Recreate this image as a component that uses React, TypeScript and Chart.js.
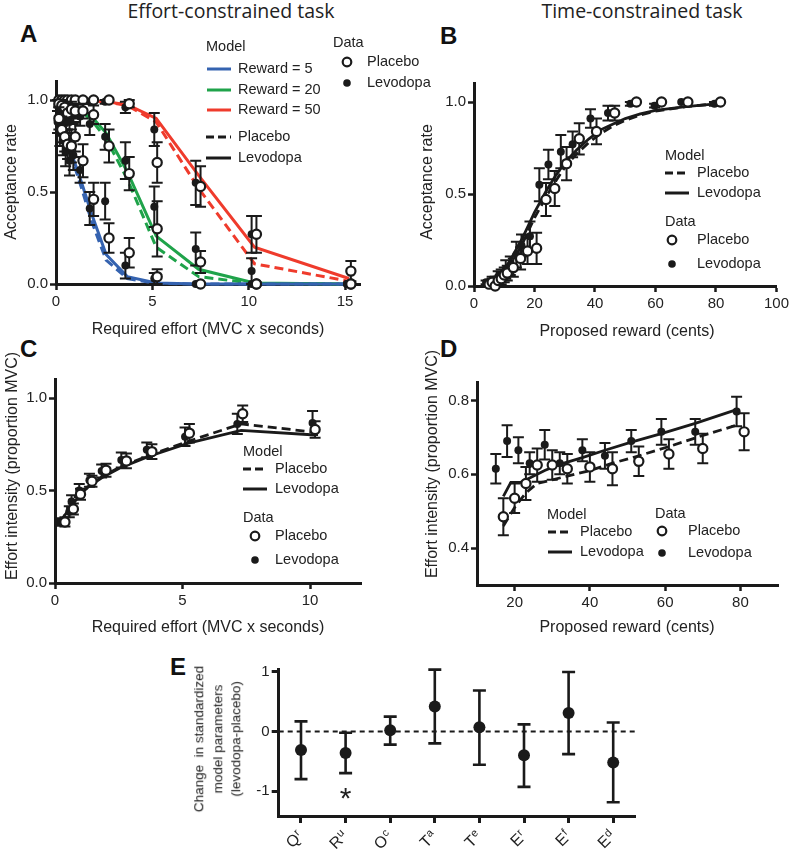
import React, { useEffect, useRef } from "react";
import { Chart, registerables } from "chart.js";

Chart.register(...registerables);

const FONT = "'Liberation Sans', Arial, Helvetica, sans-serif";
const INK = "#1a1a1a";
const BLUE = "#3563B0";
const GREEN = "#1FA34A";
const RED = "#EF3B2C";

// ---------------- Panel A : effort-constrained acceptance ----------------
const A_MODEL_EFFORT = [0.2, 0.35, 0.5, 0.65, 0.9, 1.3, 1.85, 2.6, 3.7, 5.2, 7.4, 10.3, 15.2];
const A_R5_LEVO = [0.86, 0.83, 0.79, 0.75, 0.68, 0.56, 0.38, 0.16, 0.04, 0.005, 0, 0, 0];
const A_R5_PLAC = [0.85, 0.81, 0.77, 0.73, 0.66, 0.53, 0.34, 0.13, 0.03, 0.003, 0, 0, 0];
const A_R20_LEVO = [0.99, 0.99, 0.98, 0.98, 0.97, 0.95, 0.91, 0.82, 0.61, 0.26, 0.08, 0.006, 0];
const A_R20_PLAC = [0.99, 0.98, 0.98, 0.97, 0.96, 0.94, 0.89, 0.79, 0.57, 0.2, 0.04, 0.003, 0];
const A_R50_LEVO = [1, 1, 1, 1, 1, 1, 0.995, 0.99, 0.975, 0.9, 0.59, 0.2, 0.03];
const A_R50_PLAC = [1, 1, 1, 1, 1, 1, 0.995, 0.99, 0.97, 0.88, 0.52, 0.11, 0.015];

const A_EFF_PLAC = [0.15, 0.3, 0.45, 0.6, 0.8, 1.0, 1.4, 1.95, 2.75, 3.8, 5.25, 7.5, 10.4, 15.3];
const A_EFF_LEVO = [0.08, 0.2, 0.35, 0.5, 0.7, 0.9, 1.25, 1.75, 2.55, 3.6, 5.1, 7.25, 10.15, 15.1];
const A_D5_PLAC = [0.9, 0.84, 0.8, 0.76, 0.75, 0.8, 0.67, 0.46, 0.25, 0.17, 0.04, 0, 0, 0];
const A_D5_PLAC_ERR = [0.06, 0.07, 0.08, 0.08, 0.09, 0.08, 0.09, 0.09, 0.08, 0.08, 0.04, 0, 0, 0];
const A_D5_LEVO = [0.88, 0.82, 0.78, 0.72, 0.67, 0.7, 0.62, 0.41, 0.45, 0.1, 0.03, 0, 0, 0];
const A_D5_LEVO_ERR = [0.06, 0.07, 0.08, 0.08, 0.08, 0.08, 0.07, 0.09, 0.1, 0.07, 0.03, 0, 0, 0];
const A_D20_PLAC = [0.98, 0.97, 0.96, 0.93, 0.95, 0.94, 0.94, 0.92, 0.75, 0.6, 0.3, 0.12, 0, 0];
const A_D20_PLAC_ERR = [0.02, 0.03, 0.03, 0.05, 0.04, 0.04, 0.04, 0.05, 0.09, 0.09, 0.15, 0.06, 0, 0];
const A_D20_LEVO = [0.97, 0.95, 0.92, 0.9, 0.88, 0.92, 0.91, 0.87, 0.8, 0.67, 0.42, 0.19, 0.07, 0];
const A_D20_LEVO_ERR = [0.03, 0.04, 0.05, 0.06, 0.06, 0.05, 0.05, 0.06, 0.07, 0.1, 0.11, 0.09, 0.07, 0];
const A_D50_PLAC = [1, 1, 1, 1, 1, 1, 1, 1, 1, 0.98, 0.66, 0.53, 0.27, 0.07];
const A_D50_PLAC_ERR = [0, 0, 0, 0, 0, 0, 0, 0, 0, 0.02, 0.11, 0.11, 0.1, 0.055];
const A_D50_LEVO = [1, 1, 0.99, 1, 0.99, 1, 0.99, 0.99, 0.99, 0.96, 0.84, 0.55, 0.27, 0];
const A_D50_LEVO_ERR = [0, 0, 0.01, 0, 0.01, 0, 0.01, 0.01, 0.01, 0.03, 0.09, 0.12, 0.1, 0];
const A_X_TICKS = [0, 5, 10, 15];
const A_Y_TICKS = [0, 0.5, 1];

// ---------------- Panel B : time-constrained acceptance ----------------
const B_MODEL_REWARD = [4, 6, 8, 10, 12, 14, 16, 18, 20, 22, 24, 27, 30, 34, 38, 42, 46, 50, 55, 60, 70, 80];
const B_MODEL_LEVO = [0.015, 0.03, 0.055, 0.09, 0.14, 0.2, 0.26, 0.33, 0.4, 0.46, 0.52, 0.6, 0.67, 0.74, 0.8, 0.85, 0.88, 0.91, 0.935, 0.955, 0.975, 0.99];
const B_MODEL_PLAC = [0.012, 0.025, 0.045, 0.075, 0.12, 0.17, 0.23, 0.3, 0.37, 0.43, 0.49, 0.57, 0.645, 0.72, 0.78, 0.83, 0.87, 0.9, 0.93, 0.95, 0.975, 0.99];
const B_REW_PLAC = [5, 6, 7, 8, 9, 10, 11, 13, 15.4, 17.7, 20.7, 23.8, 26.7, 30.6, 34.8, 40.5, 46.5, 53.7, 62, 70.7, 81.5];
const B_ACC_PLAC = [0.01, 0.02, 0.0, 0.03, 0.04, 0.06, 0.07, 0.1, 0.15, 0.19, 0.205, 0.47, 0.53, 0.665, 0.8, 0.84, 0.94, 1.0, 1.0, 1.0, 1.0];
const B_ERR_PLAC = [0.01, 0.02, 0, 0.02, 0.03, 0.04, 0.04, 0.05, 0.06, 0.07, 0.085, 0.09, 0.095, 0.09, 0.085, 0.07, 0.04, 0, 0, 0, 0];
const B_REW_LEVO = [4, 5, 6, 7, 8, 9, 10.5, 12, 14, 15.7, 18.5, 21.6, 24.6, 28.7, 32.6, 38.5, 44.3, 51.7, 59.7, 68.5, 79.5];
const B_ACC_LEVO = [0.02, 0.02, 0.03, 0.03, 0.05, 0.06, 0.09, 0.11, 0.17, 0.22, 0.27, 0.55, 0.66, 0.73, 0.77, 0.91, 0.94, 0.99, 0.98, 1.0, 0.99];
const B_ERR_LEVO = [0.01, 0.01, 0.02, 0.02, 0.03, 0.03, 0.05, 0.05, 0.07, 0.06, 0.08, 0.09, 0.08, 0.09, 0.07, 0.05, 0.04, 0.01, 0.01, 0, 0.01];
const B_X_TICKS = [0, 20, 40, 60, 80, 100];
const B_Y_TICKS = [0, 0.5, 1];

// ---------------- Panel C : effort intensity vs required effort ----------------
const C_MODEL_EFFORT = [0.2, 0.45, 0.65, 0.95, 1.3, 1.85, 2.6, 3.7, 5.2, 7.3, 10.2];
const C_MODEL_LEVO = [0.33, 0.38, 0.42, 0.47, 0.52, 0.57, 0.625, 0.685, 0.755, 0.825, 0.8];
const C_MODEL_PLAC = [0.33, 0.38, 0.42, 0.47, 0.52, 0.575, 0.63, 0.69, 0.765, 0.86, 0.815];
const C_EFF_PLAC = [0.39, 0.72, 1.0, 1.45, 2.0, 2.8, 3.8, 5.27, 7.36, 10.2];
const C_INT_PLAC = [0.33, 0.4, 0.48, 0.55, 0.61, 0.66, 0.71, 0.81, 0.915, 0.83];
const C_ERR_PLAC = [0.025, 0.03, 0.03, 0.03, 0.035, 0.04, 0.04, 0.05, 0.045, 0.045];
const C_EFF_LEVO = [0.2, 0.56, 0.65, 0.95, 1.35, 1.83, 2.6, 3.6, 5.1, 7.15, 10.1];
const C_INT_LEVO = [0.33, 0.385, 0.44, 0.5, 0.555, 0.605, 0.665, 0.72, 0.79, 0.86, 0.865];
const C_ERR_LEVO = [0.02, 0.03, 0.035, 0.035, 0.035, 0.035, 0.04, 0.04, 0.05, 0.055, 0.065];
const C_X_TICKS = [0, 5, 10];
const C_Y_TICKS = [0, 0.5, 1];

// ---------------- Panel D : effort intensity vs proposed reward ----------------
const D_MODEL_REW_LEVO = [17, 19, 21.5, 24, 28, 32, 38, 44, 51, 59, 68, 79];
const D_MODEL_LEVO = [0.54, 0.578, 0.578, 0.59, 0.61, 0.627, 0.645, 0.665, 0.687, 0.71, 0.738, 0.775];
const D_MODEL_REW_PLAC = [17, 20, 23, 26, 30, 34, 40, 46, 53, 61, 70, 79];
const D_MODEL_PLAC = [0.46, 0.51, 0.55, 0.575, 0.585, 0.595, 0.61, 0.63, 0.65, 0.675, 0.705, 0.733];
const D_REW_LEVO = [15, 18, 21, 24, 28, 32, 38, 44, 51, 59, 68, 79];
const D_INT_LEVO = [0.615, 0.69, 0.665, 0.63, 0.68, 0.63, 0.665, 0.65, 0.69, 0.715, 0.715, 0.77];
const D_ERR_LEVO = [0.04, 0.043, 0.035, 0.03, 0.04, 0.03, 0.03, 0.035, 0.03, 0.035, 0.035, 0.04];
const D_REW_PLAC = [17, 20, 23, 26, 30, 34, 40, 46, 53, 61, 70, 81];
const D_INT_PLAC = [0.485, 0.535, 0.575, 0.625, 0.625, 0.615, 0.62, 0.615, 0.635, 0.655, 0.67, 0.715];
const D_ERR_PLAC = [0.05, 0.04, 0.045, 0.045, 0.04, 0.04, 0.04, 0.045, 0.04, 0.04, 0.04, 0.05];
const D_X_TICKS = [20, 40, 60, 80];
const D_Y_TICKS = [0.4, 0.6, 0.8];

// ---------------- Panel E : parameter changes ----------------
const E_PARAMS = ["Qr", "Ru", "Oc", "Ta", "Te", "Er", "Ef", "Ed"];
const E_CHANGE = [-0.31, -0.36, 0.02, 0.42, 0.07, -0.4, 0.31, -0.52];
const E_LOW = [-0.8, -0.7, -0.22, -0.2, -0.56, -0.93, -0.38, -1.19];
const E_HIGH = [0.17, -0.02, 0.25, 1.04, 0.69, 0.12, 1.0, 0.15];
const E_SIG = ["", "*", "", "", "", "", "", ""];
const E_SIG_Y = -1;
const E_Y_TICKS = [-1, 0, 1];

// ---------------- helpers ----------------
type Geo = { left: number; top: number; width: number; height: number; l: number; t: number; r: number; b: number };

const pts = (xs: number[], ys: number[]) => xs.map((x, i) => ({ x, y: ys[i] }));

function modelDs(xs: number[], ys: number[], color: string, dashed: boolean, width = 3) {
  return {
    type: "scatter",
    data: pts(xs, ys),
    showLine: true,
    borderColor: color,
    backgroundColor: color,
    borderWidth: width,
    borderDash: dashed ? [9, 5] : [],
    pointRadius: 0,
    fill: false,
    tension: 0,
    order: 3,
    clip: false,
  };
}

function dataDs(xs: number[], ys: number[], err: number[], filled: boolean) {
  return {
    type: "scatter",
    data: pts(xs, ys),
    showLine: false,
    pointRadius: filled ? 4 : 4.6,
    pointBorderWidth: filled ? 0 : 2.2,
    pointBackgroundColor: filled ? INK : "#ffffff",
    pointBorderColor: INK,
    err,
    order: filled ? 2 : 1,
    clip: false,
  };
}

function axis(min: number, max: number, ticks: number[], fmt: (v: number) => string, size: number, horizontal: boolean, extra: any = {}) {
  return {
    type: "linear",
    min,
    max,
    afterBuildTicks: (s: any) => {
      s.ticks = ticks.map((v) => ({ value: v }));
    },
    afterFit: (s: any) => {
      if (horizontal) s.height = size;
      else s.width = size;
    },
    ticks: {
      callback: (v: any) => fmt(Number(v)),
      font: { family: FONT, size: 15 },
      color: "#222",
      padding: horizontal ? 3 : 2,
      autoSkip: false,
      maxRotation: 0,
    },
    grid: { drawOnChartArea: false, drawTicks: true, tickLength: 6, tickWidth: 2.5, tickColor: INK, color: INK },
    border: { display: true, color: INK, width: 3 },
    title: { display: false },
    ...extra,
  };
}

const errorBarPlugin = {
  id: "errbars",
  beforeDatasetDraw(chart: any, args: any) {
    const ds = chart.data.datasets[args.index];
    if (!ds.err && !ds.errLo) return;
    const ctx = chart.ctx;
    const ys = chart.scales.y;
    const cap = ds.capHalf ?? 5.5;
    ctx.save();
    ctx.strokeStyle = INK;
    ctx.lineWidth = ds.errWidth ?? 2;
    args.meta.data.forEach((el: any, i: number) => {
      const d = ds.data[i];
      const v = typeof d === "number" ? d : d.y;
      let lo: number, hi: number;
      if (ds.errLo) {
        lo = ds.errLo[i];
        hi = ds.errHi[i];
      } else {
        const e = ds.err[i];
        if (!e) return;
        lo = v - e;
        hi = v + e;
      }
      const x = el.x;
      const y1 = ys.getPixelForValue(lo);
      const y2 = ys.getPixelForValue(hi);
      ctx.beginPath();
      ctx.moveTo(x, y1);
      ctx.lineTo(x, y2);
      ctx.moveTo(x - cap, y1);
      ctx.lineTo(x + cap, y1);
      ctx.moveTo(x - cap, y2);
      ctx.lineTo(x + cap, y2);
      ctx.stroke();
    });
    ctx.restore();
  },
};

type LegItem =
  | { k: "text"; x: number; y: number; s: string }
  | { k: "line"; x1: number; x2: number; y: number; c: string; dash?: boolean }
  | { k: "circle"; x: number; y: number; filled: boolean };

const legendPlugin = {
  id: "panelLegend",
  afterDraw(chart: any, _args: any, opts: any) {
    if (!opts || !opts.items) return;
    const ctx = chart.ctx;
    const ox = opts.ox || 0;
    const oy = opts.oy || 0;
    ctx.save();
    (opts.items as LegItem[]).forEach((it) => {
      if (it.k === "text") {
        ctx.font = `14.5px ${FONT}`;
        ctx.fillStyle = "#222";
        ctx.textAlign = "left";
        ctx.textBaseline = "middle";
        ctx.fillText(it.s, it.x - ox, it.y - oy);
      } else if (it.k === "line") {
        ctx.strokeStyle = it.c;
        ctx.lineWidth = 3;
        ctx.setLineDash(it.dash ? [8, 4] : []);
        ctx.beginPath();
        ctx.moveTo(it.x1 - ox, it.y - oy);
        ctx.lineTo(it.x2 - ox, it.y - oy);
        ctx.stroke();
        ctx.setLineDash([]);
      } else {
        ctx.beginPath();
        ctx.arc(it.x - ox, it.y - oy, it.filled ? 3.8 : 4.3, 0, Math.PI * 2);
        if (it.filled) {
          ctx.fillStyle = INK;
          ctx.fill();
        } else {
          ctx.fillStyle = "#fff";
          ctx.fill();
          ctx.strokeStyle = INK;
          ctx.lineWidth = 2.2;
          ctx.stroke();
        }
      }
    });
    ctx.restore();
  },
};

const eDecorPlugin = {
  id: "eDecor",
  beforeDatasetsDraw(chart: any) {
    const { ctx, chartArea } = chart;
    const y0 = chart.scales.y.getPixelForValue(0);
    ctx.save();
    ctx.strokeStyle = INK;
    ctx.lineWidth = 2;
    ctx.setLineDash([5, 4]);
    ctx.beginPath();
    ctx.moveTo(chartArea.left, y0);
    ctx.lineTo(chartArea.right, y0);
    ctx.stroke();
    ctx.restore();
  },
  afterDraw(chart: any) {
    const { ctx, chartArea } = chart;
    const xs = chart.scales.x;
    const ys = chart.scales.y;
    const labels: string[] = chart.data.labels;
    ctx.save();
    labels.forEach((lab, i) => {
      const x = xs.getPixelForValue(i);
      ctx.save();
      ctx.translate(x, chartArea.bottom + 18);
      ctx.rotate(-Math.PI / 4);
      ctx.fillStyle = "#222";
      ctx.textBaseline = "middle";
      ctx.textAlign = "right";
      ctx.font = `11px ${FONT}`;
      const sup = lab.slice(1);
      const supW = ctx.measureText(sup).width;
      ctx.fillText(sup, 0, -4);
      ctx.font = `16px ${FONT}`;
      ctx.fillText(lab[0], -supW - 0.5, 0);
      ctx.restore();
      if (E_SIG[i]) {
        ctx.font = `30px ${FONT}`;
        ctx.textAlign = "center";
        ctx.textBaseline = "alphabetic";
        ctx.fillStyle = "#222";
        ctx.fillText(E_SIG[i], x, ys.getPixelForValue(E_SIG_Y) + 17);
      }
    });
    ctx.restore();
  },
};

function baseOptions(g: Geo) {
  return {
    animation: false,
    responsive: false,
    maintainAspectRatio: false,
    devicePixelRatio: 1,
    events: [],
    layout: { padding: { left: 0, top: g.t - g.top, right: g.left + g.width - g.r, bottom: 0 } },
  };
}

function ChartBox({ geo, make }: { geo: Geo; make: () => any }) {
  const ref = useRef<HTMLCanvasElement | null>(null);
  useEffect(() => {
    if (!ref.current) return;
    const chart = new Chart(ref.current, make());
    return () => chart.destroy();
  }, []);
  return (
    <canvas
      ref={ref}
      width={geo.width}
      height={geo.height}
      style={{ position: "absolute", left: geo.left, top: geo.top, width: geo.width, height: geo.height }}
    />
  );
}

const f1 = (v: number) => v.toFixed(1);
const f0 = (v: number) => String(v);

// ---------------- geometry ----------------
const GA: Geo = { left: 0, top: 30, width: 440, height: 310, l: 56, t: 81.6, r: 360.5, b: 284 };
const GB: Geo = { left: 420, top: 60, width: 372, height: 280, l: 474, t: 83.6, r: 777, b: 286 };
const GC: Geo = { left: 0, top: 360, width: 430, height: 273, l: 55, t: 379.5, r: 361, b: 583 };
const GD: Geo = { left: 420, top: 360, width: 372, height: 273, l: 477, t: 382, r: 778, b: 585 };
const GE: Geo = { left: 185, top: 648, width: 607, height: 205, l: 278.7, t: 669, r: 635.5, b: 816 };

function modelLegend(x: number, y: number, dy: number): LegItem[] {
  return [];
}

const makeA = () => ({
  type: "scatter",
  data: {
    datasets: [
      modelDs(A_MODEL_EFFORT, A_R5_PLAC, BLUE, true),
      modelDs(A_MODEL_EFFORT, A_R5_LEVO, BLUE, false),
      modelDs(A_MODEL_EFFORT, A_R20_PLAC, GREEN, true),
      modelDs(A_MODEL_EFFORT, A_R20_LEVO, GREEN, false),
      modelDs(A_MODEL_EFFORT, A_R50_PLAC, RED, true),
      modelDs(A_MODEL_EFFORT, A_R50_LEVO, RED, false),
      dataDs(A_EFF_LEVO, A_D5_LEVO, A_D5_LEVO_ERR, true),
      dataDs(A_EFF_LEVO, A_D20_LEVO, A_D20_LEVO_ERR, true),
      dataDs(A_EFF_LEVO, A_D50_LEVO, A_D50_LEVO_ERR, true),
      dataDs(A_EFF_PLAC, A_D5_PLAC, A_D5_PLAC_ERR, false),
      dataDs(A_EFF_PLAC, A_D20_PLAC, A_D20_PLAC_ERR, false),
      dataDs(A_EFF_PLAC, A_D50_PLAC, A_D50_PLAC_ERR, false),
    ],
  },
  options: {
    ...baseOptions(GA),
    scales: {
      x: axis(0, 15.8, A_X_TICKS, f0, GA.top + GA.height - GA.b, true),
      y: axis(0, 1.1, A_Y_TICKS, f1, GA.l - GA.left, false),
    },
    plugins: {
      legend: { display: false },
      tooltip: { enabled: false },
      panelLegend: {
        ox: GA.left,
        oy: GA.top,
        items: [
          { k: "text", x: 206, y: 47, s: "Model" },
          { k: "line", x1: 207, x2: 231, y: 69, c: BLUE },
          { k: "text", x: 238, y: 69, s: "Reward = 5" },
          { k: "line", x1: 207, x2: 231, y: 90, c: GREEN },
          { k: "text", x: 238, y: 90, s: "Reward = 20" },
          { k: "line", x1: 207, x2: 231, y: 110, c: RED },
          { k: "text", x: 238, y: 110, s: "Reward = 50" },
          { k: "line", x1: 206, x2: 231, y: 137, c: INK, dash: true },
          { k: "text", x: 238, y: 137, s: "Placebo" },
          { k: "line", x1: 206, x2: 231, y: 158, c: INK },
          { k: "text", x: 238, y: 158, s: "Levodopa" },
          { k: "text", x: 333, y: 43, s: "Data" },
          { k: "circle", x: 347, y: 62, filled: false },
          { k: "text", x: 367, y: 62, s: "Placebo" },
          { k: "circle", x: 347, y: 83, filled: true },
          { k: "text", x: 367, y: 83, s: "Levodopa" },
        ],
      },
    },
  },
  plugins: [errorBarPlugin, legendPlugin],
});

const stdLegend = (mx: number, my: number, textX: number, circleX: number, dataY: number): LegItem[] => [
  { k: "text", x: mx, y: my, s: "Model" },
  { k: "line", x1: mx, x2: mx + 24, y: my + 17, c: INK, dash: true },
  { k: "text", x: textX, y: my + 17, s: "Placebo" },
  { k: "line", x1: mx, x2: mx + 24, y: my + 37, c: INK },
  { k: "text", x: textX, y: my + 37, s: "Levodopa" },
  { k: "text", x: mx, y: dataY, s: "Data" },
  { k: "circle", x: circleX, y: dataY + 18, filled: false },
  { k: "text", x: textX, y: dataY + 18, s: "Placebo" },
  { k: "circle", x: circleX, y: dataY + 42, filled: true },
  { k: "text", x: textX, y: dataY + 42, s: "Levodopa" },
];

const makeB = () => ({
  type: "scatter",
  data: {
    datasets: [
      modelDs(B_MODEL_REWARD, B_MODEL_PLAC, INK, true, 2.8),
      modelDs(B_MODEL_REWARD, B_MODEL_LEVO, INK, false, 2.8),
      dataDs(B_REW_LEVO, B_ACC_LEVO, B_ERR_LEVO, true),
      dataDs(B_REW_PLAC, B_ACC_PLAC, B_ERR_PLAC, false),
    ],
  },
  options: {
    ...baseOptions(GB),
    scales: {
      x: axis(0, 100, B_X_TICKS, f0, GB.top + GB.height - GB.b, true),
      y: axis(0, 1.1, B_Y_TICKS, f1, GB.l - GB.left, false),
    },
    plugins: {
      legend: { display: false },
      tooltip: { enabled: false },
      panelLegend: { ox: GB.left, oy: GB.top, items: stdLegend(665, 156, 697, 672, 222) },
    },
  },
  plugins: [errorBarPlugin, legendPlugin],
});

const makeC = () => ({
  type: "scatter",
  data: {
    datasets: [
      modelDs(C_MODEL_EFFORT, C_MODEL_PLAC, INK, true, 2.8),
      modelDs(C_MODEL_EFFORT, C_MODEL_LEVO, INK, false, 2.8),
      dataDs(C_EFF_LEVO, C_INT_LEVO, C_ERR_LEVO, true),
      dataDs(C_EFF_PLAC, C_INT_PLAC, C_ERR_PLAC, false),
    ],
  },
  options: {
    ...baseOptions(GC),
    scales: {
      x: axis(0, 12, C_X_TICKS, f0, GC.top + GC.height - GC.b, true),
      y: axis(0, 1.1, C_Y_TICKS, f1, GC.l - GC.left, false),
    },
    plugins: {
      legend: { display: false },
      tooltip: { enabled: false },
      panelLegend: { ox: GC.left, oy: GC.top, items: stdLegend(243, 452, 275, 255, 518) },
    },
  },
  plugins: [errorBarPlugin, legendPlugin],
});

const makeD = () => ({
  type: "scatter",
  data: {
    datasets: [
      modelDs(D_MODEL_REW_PLAC, D_MODEL_PLAC, INK, true, 2.8),
      modelDs(D_MODEL_REW_LEVO, D_MODEL_LEVO, INK, false, 2.8),
      dataDs(D_REW_LEVO, D_INT_LEVO, D_ERR_LEVO, true),
      dataDs(D_REW_PLAC, D_INT_PLAC, D_ERR_PLAC, false),
    ],
  },
  options: {
    ...baseOptions(GD),
    scales: {
      x: axis(10, 90, D_X_TICKS, f0, GD.top + GD.height - GD.b, true),
      y: axis(0.3, 0.85, D_Y_TICKS, f1, GD.l - GD.left, false),
    },
    plugins: {
      legend: { display: false },
      tooltip: { enabled: false },
      panelLegend: {
        ox: GD.left,
        oy: GD.top,
        items: [
          { k: "text", x: 547, y: 515, s: "Model" },
          { k: "line", x1: 548, x2: 572, y: 532, c: INK, dash: true },
          { k: "text", x: 580, y: 532, s: "Placebo" },
          { k: "line", x1: 548, x2: 572, y: 552, c: INK },
          { k: "text", x: 580, y: 552, s: "Levodopa" },
          { k: "text", x: 655, y: 514, s: "Data" },
          { k: "circle", x: 662, y: 531, filled: false },
          { k: "text", x: 688, y: 531, s: "Placebo" },
          { k: "circle", x: 662, y: 553, filled: true },
          { k: "text", x: 688, y: 553, s: "Levodopa" },
        ],
      },
    },
  },
  plugins: [errorBarPlugin, legendPlugin],
});

const makeE = () => ({
  type: "line",
  data: {
    labels: E_PARAMS,
    datasets: [
      {
        data: E_CHANGE,
        showLine: false,
        pointRadius: 6,
        pointBorderWidth: 0,
        pointBackgroundColor: INK,
        borderColor: INK,
        errLo: E_LOW,
        errHi: E_HIGH,
        capHalf: 6.5,
        errWidth: 2.6,
        clip: false,
      },
    ],
  },
  options: {
    ...baseOptions(GE),
    scales: {
      x: {
        type: "category",
        offset: true,
        afterFit: (s: any) => {
          s.height = GE.top + GE.height - GE.b;
        },
        ticks: { color: "rgba(0,0,0,0)", font: { family: FONT, size: 12 }, autoSkip: false, maxRotation: 0 },
        grid: { offset: false, drawOnChartArea: false, drawTicks: true, tickLength: 7, tickWidth: 3, tickColor: INK, color: INK },
        border: { display: true, color: INK, width: 3 },
      },
      y: axis(-1.42, 1.05, E_Y_TICKS, f0, GE.l - GE.left, false, {
        grid: { drawOnChartArea: false, drawTicks: true, tickLength: 7, tickWidth: 3, tickColor: INK, color: INK },
      }),
    },
    plugins: { legend: { display: false }, tooltip: { enabled: false } },
  },
  plugins: [errorBarPlugin, eDecorPlugin],
});

const textBase: React.CSSProperties = {
  position: "absolute",
  fontFamily: FONT,
  color: "#222",
  whiteSpace: "nowrap",
  lineHeight: 1,
};

function HText({ x, y, s, size = 16 }: { x: number; y: number; s: string; size?: number }) {
  return <div style={{ ...textBase, left: x, top: y, fontSize: size, transform: "translate(-50%,-50%)" }}>{s}</div>;
}
function VText({ x, y, s, size = 16 }: { x: number; y: number; s: string; size?: number }) {
  return (
    <div style={{ ...textBase, left: x, top: y, fontSize: size, transform: "translate(-50%,-50%) rotate(-90deg)" }}>{s}</div>
  );
}
function Letter({ x, y, s }: { x: number; y: number; s: string }) {
  return <div style={{ ...textBase, left: x, top: y, fontSize: 24, fontWeight: 700, color: "#111" }}>{s}</div>;
}

export default function App() {
  Chart.defaults.font.family = FONT;
  return (
    <div style={{ position: "absolute", left: 0, top: 0, width: 792, height: 853, overflow: "hidden", background: "#fff" }}>
      <div style={{ ...textBase, fontFamily: "'Open Sans', sans-serif", fontSize: 19.5, left: 231, top: 1, transform: "translateX(-50%)" }}>
        Effort-constrained task
      </div>
      <div style={{ ...textBase, fontFamily: "'Open Sans', sans-serif", fontSize: 19.5, left: 642, top: 1, transform: "translateX(-50%)" }}>
        Time-constrained task
      </div>
      <Letter x={20} y={22} s="A" />
      <Letter x={440} y={24} s="B" />
      <Letter x={20} y={337} s="C" />
      <Letter x={440} y={337} s="D" />
      <Letter x={170} y={655} s="E" />

      <ChartBox geo={GA} make={makeA} />
      <ChartBox geo={GB} make={makeB} />
      <ChartBox geo={GC} make={makeC} />
      <ChartBox geo={GD} make={makeD} />
      <ChartBox geo={GE} make={makeE} />

      <HText x={208} y={329} s="Required effort (MVC x seconds)" />
      <VText x={11} y={182} s="Acceptance rate" />
      <HText x={627} y={331} s="Proposed reward (cents)" />
      <VText x={427} y={182} s="Acceptance rate" />
      <HText x={208} y={627} s="Required effort (MVC x seconds)" />
      <VText x={12} y={466} s="Effort intensity (proportion MVC)" />
      <HText x={627} y={627} s="Proposed reward (cents)" />
      <VText x={432} y={464} s="Effort intensity (proportion MVC)" />
      <div
        style={{
          ...textBase,
          left: 218,
          top: 739,
          fontSize: 13.5,
          lineHeight: "18.5px",
          textAlign: "center",
          transform: "translate(-50%,-50%) rotate(-90deg)",
        }}
      >
        Change&nbsp; in standardized
        <br />
        model parameters
        <br />
        (levodopa-placebo)
      </div>
    </div>
  );
}
